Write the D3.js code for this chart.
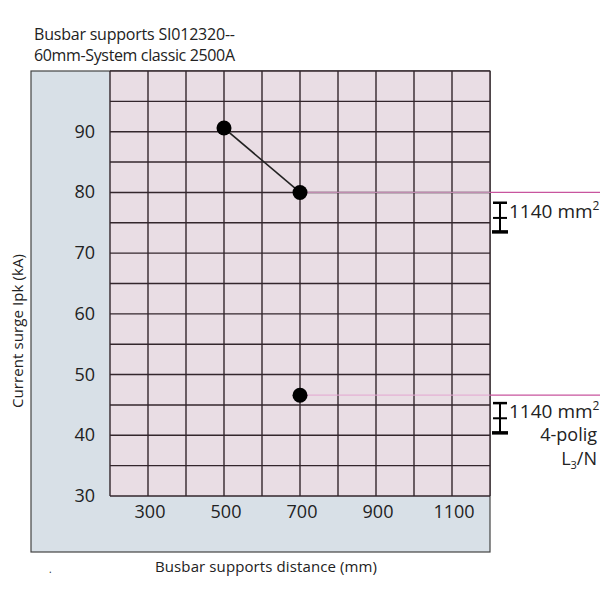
<!DOCTYPE html>
<html>
<head>
<meta charset="utf-8">
<script src="https://cdn.jsdelivr.net/npm/d3@7"></script>
<style>
  body { margin: 0; background: #fff; }
  text { font-family: "Open Sans", sans-serif; fill: #222; }
</style>
</head>
<body>
<svg id="chart" width="600" height="600"></svg>
<script>
// chart values
var titleLines = ["Busbar supports SI012320--", "60mm-System classic 2500A"];
var xTicks = [300, 500, 700, 900, 1100];
var yTicks = [30, 40, 50, 60, 70, 80, 90];
var lineDistance = [500, 700];
var lineSurge = [90.6, 80];
var soloDistance = [700];
var soloSurge = [46.6];
var refSurge = [80, 46.6];
var noteTop = [78.3, 45.3];
var noteMid = [75.8, 42.8];
var noteBottom = [73.5, 40.4];
var noteText = ["1140 mm", "1140 mm"];
var noteExtra = [[], ["4-polig", "L|3|/N"]];

var svg = d3.select("#chart");
var panel = {x0: 31, y0: 71, x1: 490, y1: 552};
var plot = {x0: 110, y0: 71, x1: 490, y1: 496};

var x = d3.scaleLinear().domain([200, 1200]).range([plot.x0, plot.x1]);
var y = d3.scaleLinear().domain([30, 100]).range([plot.y1, plot.y0]);

// title
svg.selectAll("text.title")
  .data(titleLines)
  .enter().append("text")
  .attr("class", "title")
  .attr("x", 34)
  .attr("y", function(d, i) { return 40 + i * 21; })
  .style("font-size", "16px")
  .attr("textLength", 201)
  .text(function(d) { return d; });

// outer panel
svg.append("rect")
  .attr("x", panel.x0).attr("y", panel.y0)
  .attr("width", panel.x1 - panel.x0).attr("height", panel.y1 - panel.y0)
  .attr("fill", "#d8e0e7")
  .attr("stroke", "#444").attr("stroke-width", 1.2);

// plot background
svg.append("rect")
  .attr("x", plot.x0).attr("y", plot.y0)
  .attr("width", plot.x1 - plot.x0).attr("height", plot.y1 - plot.y0)
  .attr("fill", "#e9dde4");

// grid
var grid = svg.append("g").attr("stroke", "#33262c").attr("stroke-width", 1.4);
grid.selectAll("line.v")
  .data(d3.range(200, 1201, 100))
  .enter().append("line")
  .attr("x1", function(d) { return x(d); }).attr("x2", function(d) { return x(d); })
  .attr("y1", y(30)).attr("y2", y(100));
grid.selectAll("line.h")
  .data(d3.range(30, 101, 5))
  .enter().append("line")
  .attr("x1", x(200)).attr("x2", x(1200))
  .attr("y1", function(d) { return y(d); }).attr("y2", function(d) { return y(d); });

// reference lines: faint inside the plot, strong outside
svg.selectAll("line.refin")
  .data(refSurge)
  .enter().append("line")
  .attr("x1", x(700)).attr("x2", x(1200))
  .attr("y1", function(d) { return y(d); }).attr("y2", function(d) { return y(d); })
  .attr("stroke", "#e4a6d2").attr("stroke-width", 1.2).attr("opacity", 0.8);
svg.selectAll("line.refout")
  .data(refSurge)
  .enter().append("line")
  .attr("x1", x(1200)).attr("x2", 600)
  .attr("y1", function(d) { return y(d); }).attr("y2", function(d) { return y(d); })
  .attr("stroke", "#c8559e").attr("stroke-width", 1.2);

// tick labels
svg.selectAll("text.xt")
  .data(xTicks)
  .enter().append("text")
  .attr("x", function(d) { return x(d) + 2; })
  .attr("y", 518)
  .attr("text-anchor", "middle")
  .style("font-size", "18px")
  .text(function(d) { return d; });
svg.selectAll("text.yt")
  .data(yTicks)
  .enter().append("text")
  .attr("x", 95)
  .attr("y", function(d) { return y(d) + 6; })
  .attr("text-anchor", "end")
  .style("font-size", "18px")
  .text(function(d) { return d; });

// axis titles
svg.append("text")
  .attr("x", 266).attr("y", 572)
  .attr("text-anchor", "middle")
  .style("font-size", "15px")
  .attr("textLength", 222)
  .text("Busbar supports distance (mm)");
svg.append("text")
  .attr("transform", "translate(23,331) rotate(-90)")
  .attr("text-anchor", "middle")
  .style("font-size", "15px")
  .attr("textLength", 154)
  .text("Current surge Ipk (kA)");
svg.append("text")
  .attr("x", 49).attr("y", 573)
  .style("font-size", "10px")
  .text(".");

// connecting line
var pts = lineDistance.map(function(d, i) { return [d, lineSurge[i]]; });
svg.append("path")
  .datum(pts)
  .attr("d", d3.line().x(function(d) { return x(d[0]); }).y(function(d) { return y(d[1]); }))
  .attr("fill", "none").attr("stroke", "#222").attr("stroke-width", 1.6);

// dots
var allPts = pts.concat(soloDistance.map(function(d, i) { return [d, soloSurge[i]]; }));
svg.selectAll("circle.pt")
  .data(allPts)
  .enter().append("circle")
  .attr("cx", function(d) { return x(d[0]); })
  .attr("cy", function(d) { return y(d[1]); })
  .attr("r", 7.5)
  .attr("fill", "#000");

// cross-section notes
var notes = svg.selectAll("g.note")
  .data(noteTop.map(function(d, i) { return i; }))
  .enter().append("g");
var bx = 500;
notes.append("line")
  .attr("x1", bx).attr("x2", bx)
  .attr("y1", function(i) { return y(noteTop[i]); })
  .attr("y2", function(i) { return y(noteBottom[i]); })
  .attr("stroke", "#000").attr("stroke-width", 2);
notes.append("line")
  .attr("x1", bx - 7).attr("x2", bx + 7)
  .attr("y1", function(i) { return y(noteTop[i]); })
  .attr("y2", function(i) { return y(noteTop[i]); })
  .attr("stroke", "#000").attr("stroke-width", 2.5);
notes.append("line")
  .attr("x1", bx - 7).attr("x2", bx + 7)
  .attr("y1", function(i) { return y(noteMid[i]); })
  .attr("y2", function(i) { return y(noteMid[i]); })
  .attr("stroke", "#000").attr("stroke-width", 2);
notes.append("line")
  .attr("x1", bx - 8).attr("x2", bx + 8)
  .attr("y1", function(i) { return y(noteBottom[i]); })
  .attr("y2", function(i) { return y(noteBottom[i]); })
  .attr("stroke", "#000").attr("stroke-width", 3.5);

var nt = notes.append("text")
  .attr("x", 509)
  .attr("y", function(i) { return y(noteTop[i]) + 15; })
  .style("font-size", "19px");
nt.append("tspan").text(function(i) { return noteText[i]; });
nt.append("tspan").attr("dy", -8).style("font-size", "12px").text("2");

notes.each(function(i) {
  var g = d3.select(this);
  noteExtra[i].forEach(function(s, k) {
    var t = g.append("text")
      .attr("x", 597)
      .attr("y", y(noteTop[i]) + 38 + k * 24)
      .attr("text-anchor", "end")
      .style("font-size", "18px");
    var parts = s.split("|");
    t.append("tspan").text(parts[0]);
    if (parts.length > 1) {
      t.append("tspan").attr("dy", 4).style("font-size", "11px").text(parts[1]);
      t.append("tspan").attr("dy", -4).text(parts[2]);
    }
  });
});
</script>
</body>
</html>
